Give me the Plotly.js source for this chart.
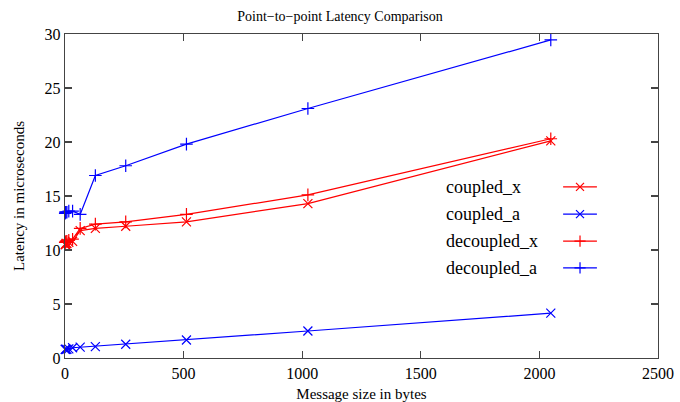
<!DOCTYPE html>
<html>
<head>
<meta charset="utf-8">
<script src="https://cdn.plot.ly/plotly-3.0.1.min.js"></script>
<style>html,body{margin:0;padding:0;background:#fff;}</style>
</head>
<body>
<div id="chart" style="width:680px;height:402px;"></div>
<script>
// Message sizes in bytes
const sizes = [1, 2, 4, 8, 16, 32, 64, 128, 256, 512, 1024, 2048];

// Latency in microseconds per configuration
const coupledX   = [10.5, 10.5, 10.6, 10.6, 10.7, 10.8, 11.8, 12.0, 12.2, 12.6, 14.3, 20.1];
const coupledA   = [0.8, 0.8, 0.8, 0.8, 0.85, 0.95, 1.0, 1.05, 1.27, 1.67, 2.5, 4.15];
const decoupledX = [10.7, 10.7, 10.8, 10.8, 10.9, 11.0, 12.0, 12.4, 12.6, 13.3, 15.1, 20.3];
const decoupledA = [13.4, 13.5, 13.5, 13.5, 13.6, 13.6, 13.3, 16.9, 17.8, 19.8, 23.1, 29.45];

const seriesNames = ['coupled_x', 'coupled_a', 'decoupled_x', 'decoupled_a'];
const seriesData = [coupledX, coupledA, decoupledX, decoupledA];
const seriesColors = ['#ff0000', '#0000ff', '#ff0000', '#0000ff'];
const seriesSymbols = ['x-thin-open', 'x-thin-open', 'cross-thin-open', 'cross-thin-open'];

const xTicks = [0, 500, 1000, 1500, 2000, 2500];
const yTicks = [0, 5, 10, 15, 20, 25, 30];

const serif = 'Liberation Serif, Times New Roman, serif';
const traces = [];

seriesData.forEach((vals, i) => {
  traces.push({
    x: sizes, y: vals, type: 'scatter', mode: 'lines+markers',
    name: seriesNames[i], showlegend: false, cliponaxis: false,
    line: {color: seriesColors[i], width: 1.2},
    marker: {symbol: seriesSymbols[i], size: 9, color: seriesColors[i],
             line: {color: seriesColors[i], width: 1.2}}
  });
});

// Key: text on the left, sample line with marker on the right
const keyRows = [0.528, 0.444, 0.361, 0.278];
const annotations = [];
seriesNames.forEach((name, i) => {
  traces.push({
    x: [0.84, 0.897], y: [keyRows[i], keyRows[i]], xaxis: 'x2', yaxis: 'y2',
    type: 'scatter', mode: 'lines', showlegend: false, hoverinfo: 'skip',
    line: {color: seriesColors[i], width: 1.2}
  });
  traces.push({
    x: [0.8685], y: [keyRows[i]], xaxis: 'x2', yaxis: 'y2',
    type: 'scatter', mode: 'markers', showlegend: false, hoverinfo: 'skip',
    marker: {symbol: seriesSymbols[i], size: 8, color: seriesColors[i],
             line: {color: seriesColors[i], width: 1.2}}
  });
  annotations.push({
    x: 0.639, y: keyRows[i], xref: 'x2', yref: 'y2', xanchor: 'left', yanchor: 'middle',
    text: name, showarrow: false, font: {family: serif, size: 18, color: '#000'}
  });
});

const axisCommon = {
  showline: true, linecolor: '#444', linewidth: 1.3, mirror: 'ticks',
  ticks: 'inside', ticklen: 7, tickcolor: '#444', tickwidth: 1.3,
  showgrid: false, zeroline: false,
  tickfont: {family: serif, size: 16, color: '#000'}
};

const layout = {
  width: 680, height: 402,
  margin: {l: 65, r: 22, t: 34, b: 44},
  paper_bgcolor: '#fff', plot_bgcolor: '#fff',
  title: {text: 'Point\u2212to\u2212point Latency Comparison', x: 0.5, xanchor: 'center',
          y: 0.96, yanchor: 'middle', font: {family: serif, size: 14, color: '#000'}},
  xaxis: Object.assign({}, axisCommon, {
    range: [0, 2500], tickvals: xTicks, ticktext: xTicks.map(String),
    title: {text: 'Message size in bytes', standoff: 10, font: {family: serif, size: 15, color: '#000'}}
  }),
  yaxis: Object.assign({}, axisCommon, {
    range: [0, 30], tickvals: yTicks, ticktext: yTicks.map(String),
    title: {text: 'Latency in microseconds', standoff: 16, font: {family: serif, size: 15, color: '#000'}}
  }),
  xaxis2: {overlaying: 'x', anchor: 'y2', range: [0, 1], visible: false},
  yaxis2: {overlaying: 'y', anchor: 'x2', range: [0, 1], visible: false},
  annotations: annotations,
  showlegend: false
};

Plotly.newPlot('chart', traces, layout, {displayModeBar: false, staticPlot: true});
</script>
</body>
</html>
